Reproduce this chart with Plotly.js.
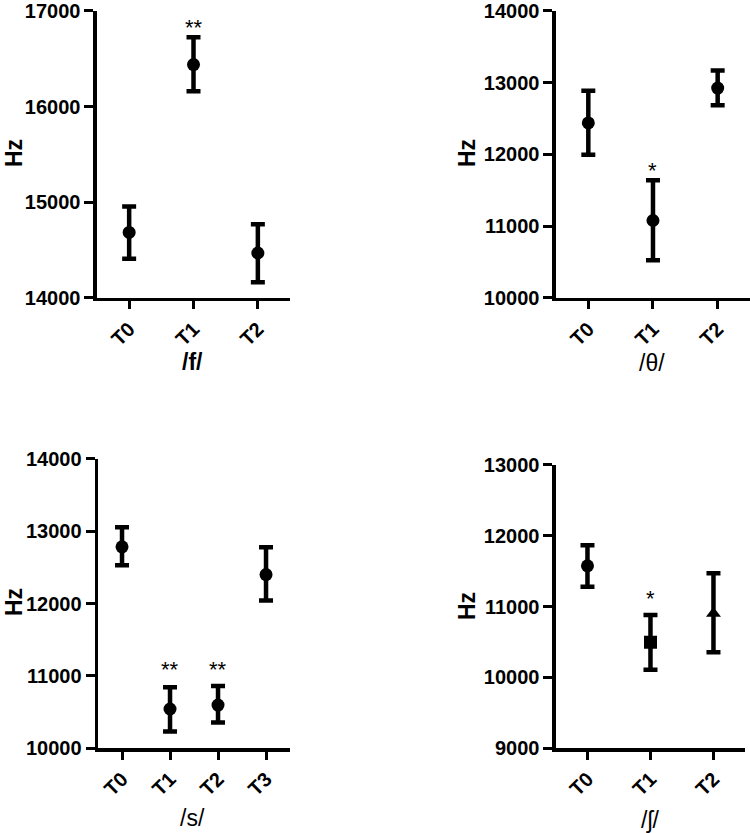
<!DOCTYPE html>
<html>
<head>
<meta charset="utf-8">
<script src="https://cdn.plot.ly/plotly-3.0.1.min.js"></script>
<style>
  html, body { margin: 0; padding: 0; background: #fff; }
  #chart { width: 750px; height: 833px; }
</style>
</head>
<body>
<div id="chart"></div>
<script>
// four panels: mean frequency (Hz) with error bars per time point
// values: mean, upper and lower end of the bar

var catsF = ['T0', 'T1', 'T2'];
var meanF = [14685, 16440, 14470];
var hiF   = [14955, 16725, 14770];
var loF   = [14410, 16160, 14165];

var catsTh = ['T0', 'T1', 'T2'];
var meanTh = [12440, 11080, 12925];
var hiTh   = [12890, 11640, 13170];
var loTh   = [11995, 10525, 12685];

var catsS = ['T0', 'T1', 'T2', 'T3'];
var meanS = [12785, 10540, 10595, 12400];
var hiS   = [13055, 10840, 10860, 12780];
var loS   = [12530, 10230, 10355, 12040];

var catsSh = ['T0', 'T1', 'T2'];
var meanSh = [11575, 10495, 10900];
var hiSh   = [11865, 10880, 11470];
var loSh   = [11280, 10105, 10355];
var symSh  = ['circle', 'square', 'triangle-up'];

// significance marks
var starsF  = {x: ['T1'], y: [16830], text: ['**']};
var starsTh = {x: ['T1'], y: [11770], text: ['*']};
var starsS  = {x: ['T1', 'T2'], y: [11080, 11080], text: ['**', '**']};
var starsSh = {x: ['T1'], y: [11120], text: ['*']};

var FONT = 'Liberation Sans, Arial, sans-serif';

function diff(a, b) {
    return a.map(function (v, i) { return Math.abs(v - b[i]); });
}

function panel(cats, mean, hi, lo, xa, ya, symbols) {
    return {
        x: cats,
        y: mean,
        xaxis: xa,
        yaxis: ya,
        type: 'scatter',
        mode: 'markers',
        marker: {color: '#000', size: 13, symbol: symbols || 'circle'},
        error_y: {
            type: 'data',
            symmetric: false,
            array: diff(hi, mean),
            arrayminus: diff(mean, lo),
            color: '#000',
            thickness: 4.5,
            width: 7
        },
        showlegend: false,
        hoverinfo: 'skip'
    };
}

var data = [
    panel(catsF, meanF, hiF, loF, 'x', 'y'),
    panel(catsTh, meanTh, hiTh, loTh, 'x2', 'y2'),
    panel(catsS, meanS, hiS, loS, 'x3', 'y3'),
    panel(catsSh, meanSh, hiSh, loSh, 'x4', 'y4', symSh)
];

function xax(domain, anchor, n) {
    return {
        domain: domain,
        anchor: anchor,
        type: 'category',
        range: [-0.5, n - 0.5],
        showline: true, linecolor: '#000', linewidth: 3.5,
        ticks: 'outside', ticklen: 8, tickwidth: 3, tickcolor: '#000',
        tickangle: -45,
        ticklabeloverflow: 'allow',
        tickfont: {family: FONT, size: 20, color: '#000', weight: 'bold'},
        showgrid: false, zeroline: false, fixedrange: true
    };
}

function yax(domain, anchor, range) {
    return {
        domain: domain,
        anchor: anchor,
        range: range,
        dtick: 1000,
        tickformat: 'd',
        showline: true, linecolor: '#000', linewidth: 3.5,
        ticks: 'outside', ticklen: 9, tickwidth: 3, tickcolor: '#000',
        ticklabeloverflow: 'allow',
        tickfont: {family: FONT, size: 20, color: '#000', weight: 'bold'},
        showgrid: false, zeroline: false, fixedrange: true
    };
}

function stars(s, xa, ya) {
    return s.x.map(function (x, i) {
        return {
            x: x, y: s.y[i], xref: xa, yref: ya,
            text: s.text[i], showarrow: false,
            font: {family: FONT, size: 22, color: '#000'}
        };
    });
}

// axis titles placed in page pixels
function label(text, px, py, angle, weight, size) {
    return {
        text: text, xref: 'paper', yref: 'paper',
        x: px / 750, y: 1 - py / 833,
        xanchor: 'center', yanchor: 'middle',
        textangle: angle, showarrow: false, borderpad: 0,
        font: {family: FONT, size: size, color: '#000', weight: weight}
    };
}

var titles = [
    label('Hz', 14, 153, -90, 'bold', 23),
    label('Hz', 467, 153, -90, 'bold', 23),
    label('Hz', 14, 602, -90, 'bold', 23),
    label('Hz', 467, 606, -90, 'bold', 23),
    label('/f/', 192, 362, 0, 'bold', 23),
    label('/θ/', 652, 363, 0, 'normal', 23),
    label('/s/', 192, 818, 0, 'normal', 23),
    label('/ʃ/', 650, 820, 0, 'normal', 23)
];

var layout = {
    width: 750,
    height: 833,
    margin: {l: 0, r: 0, t: 0, b: 0},
    paper_bgcolor: '#fff',
    plot_bgcolor: '#fff',
    xaxis:  xax([0.1293, 0.3867], 'y', catsF.length),
    yaxis:  yax([0.6423, 0.9868], 'x', [14000, 17000]),
    xaxis2: xax([0.7413, 1.0], 'y2', catsTh.length),
    yaxis2: yax([0.6423, 0.9868], 'x2', [10000, 14000]),
    xaxis3: xax([0.1307, 0.3867], 'y3', catsS.length),
    yaxis3: yax([0.102, 0.449], 'x3', [10000, 14000]),
    xaxis4: xax([0.7413, 0.9933], 'y4', catsSh.length),
    yaxis4: yax([0.102, 0.4418], 'x4', [9000, 13000]),
    annotations: [].concat(
        stars(starsF, 'x', 'y'),
        stars(starsTh, 'x2', 'y2'),
        stars(starsS, 'x3', 'y3'),
        stars(starsSh, 'x4', 'y4'),
        titles
    )
};

Plotly.newPlot('chart', data, layout, {displayModeBar: false, staticPlot: true});
</script>
</body>
</html>
